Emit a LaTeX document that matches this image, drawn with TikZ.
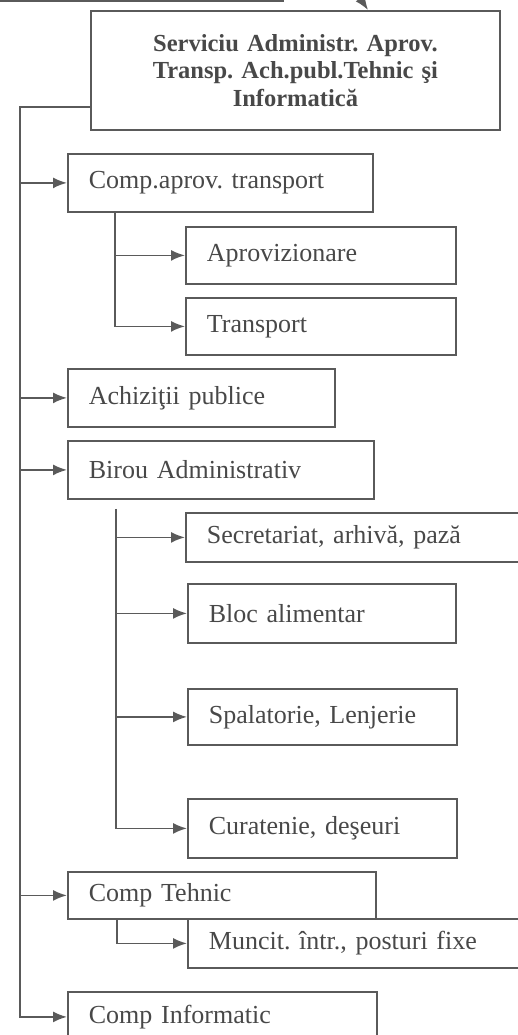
\documentclass[tikz,border=0pt]{standalone}
\usepackage{fontspec}
\setmainfont{Liberation Serif}
\usetikzlibrary{arrows.meta}
\definecolor{linegray}{HTML}{5A5A5A}
\definecolor{textgray}{HTML}{484848}
\frenchspacing
\begin{document}
\begin{tikzpicture}[x=1pt, y=-1pt,
  box/.style={draw=linegray, line width=1.8pt, anchor=north west, inner xsep=21pt,
    inner ysep=0pt, align=left, text=textgray, font=\fontsize{26}{28}\selectfont},
  link/.style={draw=linegray, line width=1.8pt},
  arr/.style={link, -{Latex[length=14pt,width=11pt]}}]
\useasboundingbox (0,0) rectangle (518,1035);
\clip (0,0) rectangle (518,1035);

% Cut-off box and arrow above
\draw[link] (-5,-40) rectangle (283,1);
\coordinate (up) at (356,-8);
\coordinate (topin) at (368,0);

% Head box
\node[box, align=center, inner xsep=0pt, minimum width=409pt, minimum height=119pt,
  text width=409pt, font=\bfseries\fontsize{24.5}{27.5}\selectfont] (top) at (90,10)
  {Serviciu Administr. Aprov.\\Transp. Ach.publ.Tehnic şi\\Informatică};
\draw[arr] (up) -- (top.north -| topin);

% First level
\node[box, minimum width=305pt, minimum height=58pt, text width=263pt] (aprov) at (67,153) {Comp.aprov. transport};
\node[box, minimum width=267pt, minimum height=58pt, text width=225pt] (achiz) at (67,368) {Achiziţii publice};
\node[box, minimum width=306pt, minimum height=58pt, text width=264pt] (birou) at (67,440) {Birou Administrativ};
\node[box, minimum width=308pt, minimum height=47pt, text width=266pt] (tehnic) at (67,871) {Comp Tehnic};
\node[box, minimum width=309pt, minimum height=50pt, text width=267pt] (inform) at (67,991) {Comp Informatic};

% Second level
\node[box, minimum width=270pt, minimum height=57pt, text width=228pt] (aprovz) at (185,226) {Aprovizionare};
\node[box, minimum width=270pt, minimum height=57pt, text width=228pt] (transp) at (185,297) {Transport};
\node[box, minimum width=360pt, minimum height=49pt, text width=318pt] (secret) at (185,512) {Secretariat, arhivă, pază};
\node[box, minimum width=268pt, minimum height=59pt, text width=226pt] (bloc) at (187,583) {Bloc alimentar};
\node[box, minimum width=269pt, minimum height=56pt, text width=227pt] (spal) at (187,688) {Spalatorie, Lenjerie};
\node[box, minimum width=269pt, minimum height=59pt, text width=227pt] (curat) at (187,798) {Curatenie, deşeuri};
\node[box, minimum width=360pt, minimum height=49pt, text width=318pt] (muncit) at (187,918) {Muncit. într., posturi fixe};

% Trunk
\coordinate (t0) at (20,107);
\draw[arr] (top.west |- t0) -- (t0) |- (inform.west);
\foreach \n in {aprov, achiz, birou, tehnic}
  \draw[arr] (t0 |- \n.west) -- (\n.west);

% Branches
\coordinate (a0) at ([xshift=48pt]aprov.south west);
\draw[arr] (a0) |- (transp.west);
\draw[arr] (a0 |- aprovz.west) -- (aprovz.west);

\coordinate (b0) at ([xshift=49pt,yshift=-9pt]birou.south west);
\draw[arr] (b0) |- (curat.west);
\foreach \n in {secret, bloc, spal}
  \draw[arr] (b0 |- \n.west) -- (\n.west);

\coordinate (c0) at ([xshift=50pt]tehnic.south west);
\draw[arr] (c0) |- (muncit.west);

\end{tikzpicture}
\end{document}
